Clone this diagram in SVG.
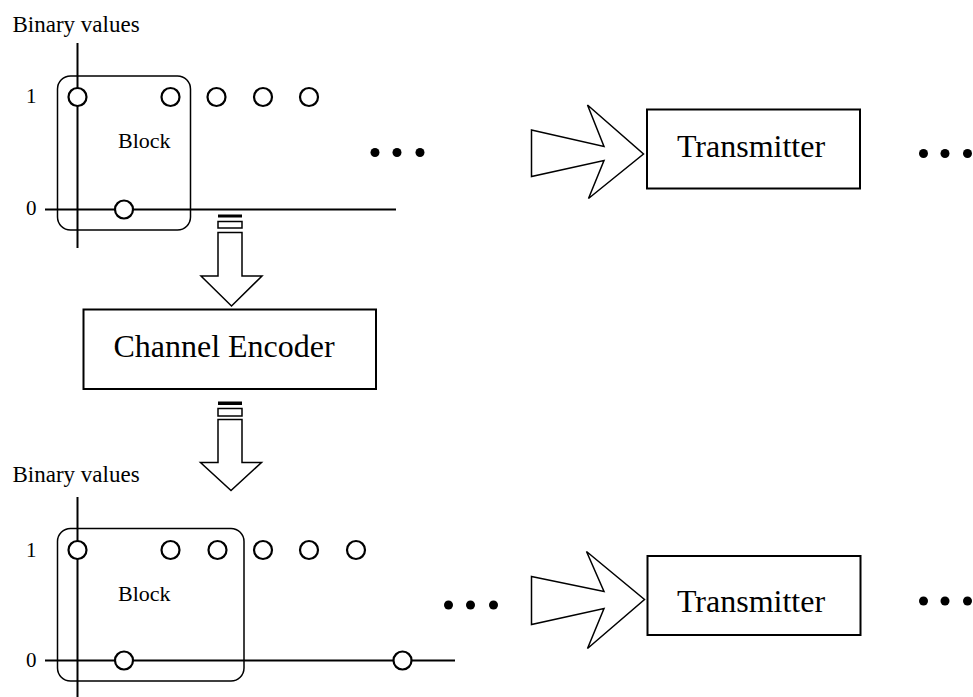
<svg xmlns="http://www.w3.org/2000/svg" width="973" height="697" viewBox="0 0 973 697">
<style>
.bg{fill:#fff}
.axis{stroke:#000;stroke-width:2;fill:none}
.blk{stroke:#000;stroke-width:1.5;fill:none}
.pt{stroke:#000;stroke-width:2.2;fill:#fff}
.dot{fill:#000}
.box{stroke:#000;stroke-width:2;fill:#fff}
.arr{stroke:#000;stroke-width:1.5;fill:#fff;stroke-linejoin:miter}
.t{font-family:"Liberation Serif","Times New Roman",serif;fill:#000}
.s{font-size:23px}
.k{font-size:22px}
.d{font-size:21px}
.b{font-size:32px}
</style>
<rect class="bg" x="0" y="0" width="973" height="697"/>

<g id="plot-top">
  <text class="t s" x="12.5" y="31.5">Binary values</text>
  <line class="axis" x1="77.5" y1="43" x2="77.5" y2="248"/>
  <line class="axis" x1="45" y1="209.5" x2="396" y2="209.5"/>
  <rect class="blk" x="57.5" y="76" width="133" height="154" rx="13"/>
  <text class="t d" x="26" y="103">1</text>
  <text class="t d" x="26" y="215">0</text>
  <text class="t k" x="118" y="148">Block</text>
  <circle class="pt" cx="77.5" cy="97" r="9"/>
  <circle class="pt" cx="170.5" cy="97" r="9"/>
  <circle class="pt" cx="216.5" cy="97" r="9"/>
  <circle class="pt" cx="263" cy="97" r="9"/>
  <circle class="pt" cx="309" cy="97" r="9"/>
  <circle class="pt" cx="124" cy="209.5" r="9"/>
  <circle class="dot" cx="375" cy="152.5" r="4.5"/>
  <circle class="dot" cx="397" cy="152.5" r="4.5"/>
  <circle class="dot" cx="420" cy="152.5" r="4.5"/>
</g>

<g id="encoder">
  <rect class="box" x="83.5" y="309.5" width="292.5" height="79.5"/>
  <text class="t b" x="224" y="357" text-anchor="middle">Channel Encoder</text>
</g>

<g id="tx-top">
  <rect class="box" x="647" y="109.5" width="213" height="79"/>
  <text class="t b" x="751" y="157" text-anchor="middle">Transmitter</text>
  <circle class="dot" cx="923.5" cy="153.5" r="4.5"/>
  <circle class="dot" cx="945" cy="153.5" r="4.5"/>
  <circle class="dot" cx="967.5" cy="153.5" r="4.5"/>
</g>

<g id="plot-bottom">
  <text class="t s" x="12.5" y="482">Binary values</text>
  <line class="axis" x1="77.5" y1="497" x2="77.5" y2="697"/>
  <line class="axis" x1="45" y1="660.5" x2="455" y2="660.5"/>
  <rect class="blk" x="57.5" y="528.5" width="186.5" height="152.5" rx="13"/>
  <text class="t d" x="26" y="557">1</text>
  <text class="t d" x="26" y="667">0</text>
  <text class="t k" x="118" y="601">Block</text>
  <circle class="pt" cx="77.5" cy="550" r="9"/>
  <circle class="pt" cx="170.5" cy="550" r="9"/>
  <circle class="pt" cx="217.5" cy="550" r="9"/>
  <circle class="pt" cx="263" cy="550" r="9"/>
  <circle class="pt" cx="309" cy="550" r="9"/>
  <circle class="pt" cx="356" cy="550" r="9"/>
  <circle class="pt" cx="124" cy="660.5" r="9"/>
  <circle class="pt" cx="402.5" cy="660.5" r="9"/>
  <circle class="dot" cx="448.5" cy="605" r="4.5"/>
  <circle class="dot" cx="470.5" cy="605" r="4.5"/>
  <circle class="dot" cx="493.5" cy="605" r="4.5"/>
</g>

<g id="tx-bottom">
  <rect class="box" x="647.5" y="556" width="213" height="79"/>
  <text class="t b" x="751" y="612" text-anchor="middle">Transmitter</text>
  <circle class="dot" cx="923.5" cy="601" r="4.5"/>
  <circle class="dot" cx="945" cy="601" r="4.5"/>
  <circle class="dot" cx="967.5" cy="601" r="4.5"/>
</g>

<g id="connectors">
  <rect class="dot" x="218" y="214.5" width="24" height="3"/>
  <rect class="arr" x="218" y="221.5" width="24" height="6.5"/>
  <polygon class="arr" points="218,232.5 242,232.5 242,276 262,276 231.5,306 201,276 218,276"/>

  <rect class="dot" x="218" y="401.5" width="24" height="3.5"/>
  <rect class="arr" x="218" y="408.5" width="24" height="7.5"/>
  <polygon class="arr" points="218,419.5 242,419.5 242,462.5 261.5,462.5 231,490.5 200.5,462.5 218,462.5"/>

  <polygon class="arr" points="531.5,130 604,146.5 587.5,105 643.5,154 588.5,198.5 604,160.5 531.5,176.5"/>
  <polygon class="arr" points="531.5,576.5 604,591.5 586.5,551.5 644.5,599.5 587.5,648.5 604,608.5 531.5,624.5"/>
</g>
</svg>
